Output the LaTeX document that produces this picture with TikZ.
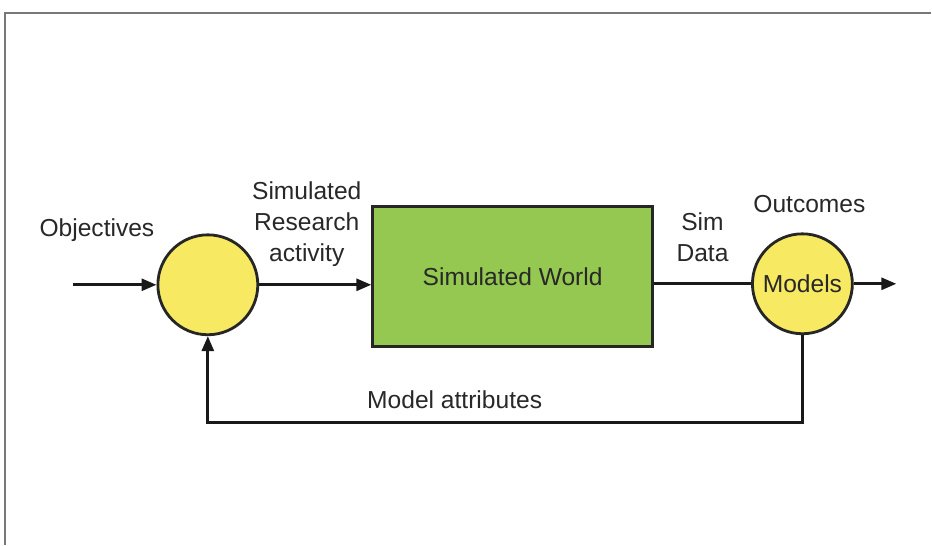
\documentclass[tikz,border=0pt]{standalone}
\usepackage{fontspec}
\setmainfont{Liberation Sans}
\usepackage{tikz}
\usetikzlibrary{arrows.meta, positioning}

\definecolor{circfill}{RGB}{247,234,98}
\definecolor{boxfill}{RGB}{148,200,80}
\definecolor{txtgray}{RGB}{40,40,40}
\definecolor{framegray}{RGB}{120,120,120}

\begin{document}
\begin{tikzpicture}[
    x=0.02cm, y=-0.02cm,
    every node/.style={font=\fontsize{14}{17.6}\selectfont, text=txtgray},
    ballnode/.style={draw=black!85, circle, line width=1.6pt, fill=circfill, minimum size=2cm, inner sep=0pt},
    worldbox/.style={draw=black!85, rectangle, line width=1.6pt, fill=boxfill, minimum width=5.6cm, minimum height=2.8cm},
    label/.style={align=center, inner sep=1pt},
    arrow/.style={-{Triangle[length=0.3cm, width=0.24cm]}, line width=1.6pt, draw=black!90},
    plain/.style={line width=1.6pt, draw=black!90}
  ]
    % Frame
    \fill[white] (0,0) rectangle (932,545);
    \draw[framegray, line width=0.8pt] (5,545) -- (5,13) -- (932,13);

    % Nodes
    \node[ballnode] (obj) at (208,285) {};
    \node[worldbox] (world) at (513,277) {Simulated World};
    \node[ballnode] (models) at (803,284) {Models};

    \coordinate (in) at (73,285);
    \coordinate (out) at (897,284);
    \coordinate (fbright) at (803,423);
    \coordinate (fbleft) at (208,423);

    % Labels
    \node[label] (objlbl) at (97,230) {Objectives};
    \node[label] (actlbl) at (307,224) {Simulated\\Research\\activity};
    \node[label] (simlbl) at (703,237) {Sim\\Data};
    \node[label, above=0.36cm of models, xshift=0.14cm] (outlbl) {Outcomes};
    \node[label] (attlbl) at (455,400) {Model attributes};

    % Connections
    \draw[arrow] (in) -- (obj.west);
    \draw[arrow] (obj.east) -- (world.west |- obj.east);
    \draw[plain] (world.east |- models.west) -- (models.west);
    \draw[arrow] (models.east) -- (out);
    \draw[arrow] (models.south) -- (fbright) -- (fbleft) -- (obj.south);

  \end{tikzpicture}
\end{document}
